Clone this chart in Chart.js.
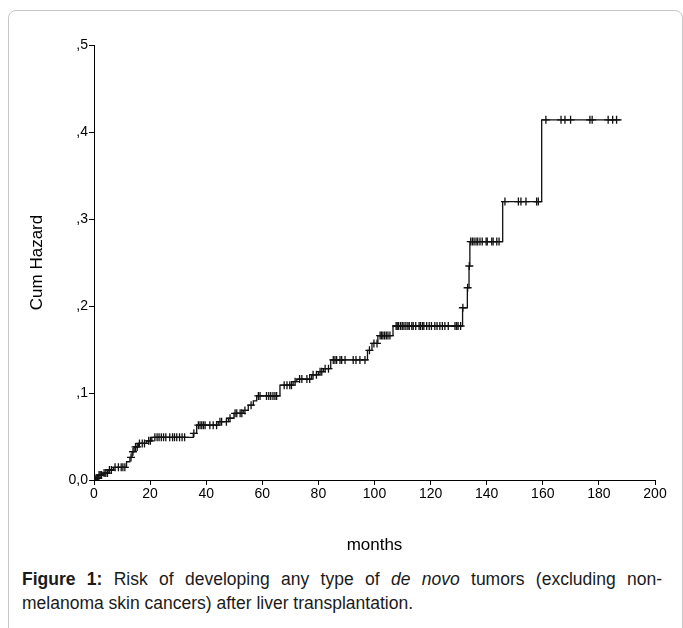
<!DOCTYPE html>
<html lang="en">
<head>
    <meta charset="UTF-8">
    <title>Cum Hazard - de novo tumors</title>
    <script src="https://cdn.jsdelivr.net/npm/chart.js"></script>
    <style>
        html, body { margin: 0; padding: 0; background: #fff; overflow: hidden; }
        body { width: 683px; height: 628px; position: relative; font-family: "Liberation Sans", Arial, sans-serif; }
        .frame {
            position: absolute; left: 8px; top: 10px; width: 675px; height: 660px;
            border: 1px solid #c6c6c6; border-radius: 8px; box-sizing: border-box;
        }
        .plot { position: absolute; left: 0; top: 0; width: 683px; height: 560px; }
        .caption {
            position: absolute; left: 22px; top: 567px; width: 640px;
            font-size: 17.5px; line-height: 24px; color: #1a1a1a;
        }
        .caption .l1 { text-align: justify; text-align-last: justify; white-space: nowrap; }
    </style>
</head>
<body>
    <div class="frame"></div>
    <div class="plot"><canvas id="hazardChart"></canvas></div>
    <div class="caption">
        <div class="l1"><b>Figure 1:</b> Risk of developing any type of <i>de novo</i> tumors (excluding non-</div>
        <div>melanoma skin cancers) after liver transplantation.</div>
    </div>

    <script>
        // Step function: event times (months) and cumulative hazard after each event
        const eventMonths = [0, 0.8, 1.5, 3.3, 5.0, 6.9, 11.6, 12.8, 13.6, 14.3, 15.8, 18.8, 20.6,
            35.4, 36.6, 44.3, 47.9, 49.9, 53.2, 55.0, 56.8, 58.0, 66.3, 71.0, 72.3, 77.6, 80.0,
            81.8, 84.4, 97.5, 99.1, 101.2, 106.6, 131.4, 133.1, 133.7, 134.0, 145.7, 159.6, 188.1];
        const cumHazard = [0, 0.002, 0.0057, 0.008, 0.0115, 0.0146, 0.021, 0.026, 0.0325, 0.038, 0.042, 0.045, 0.049,
            0.0536, 0.063, 0.067, 0.071, 0.0766, 0.080, 0.086, 0.091, 0.0966, 0.109, 0.113, 0.116, 0.121, 0.1245,
            0.128, 0.138, 0.149, 0.157, 0.166, 0.177, 0.198, 0.221, 0.246, 0.274, 0.320, 0.414, 0.414];

        // Censored observations (months)
        const censoredMonths = [0.3, 0.6, 1.0, 1.3, 1.8, 2.2, 2.7, 3.6, 4.2, 4.8, 5.5, 6.2,
            7.5, 8.7, 9.7, 10.3, 11.0, 13.2, 13.9, 14.8, 15.4, 16.2, 17.2, 18.0, 19.5, 20.1,
            21.7, 22.5, 23.2, 24.0, 24.8, 25.6, 27.0, 28.0, 28.7, 29.5, 30.5, 31.4, 32.3, 35.6,
            37.2, 37.8, 38.4, 39.0, 39.6, 41.3, 42.5, 43.7, 44.9, 45.5, 47.2, 48.5,
            50.3, 50.9, 52.1, 52.7, 53.8, 56.0, 58.6, 59.2, 61.5, 62.3, 63.0, 63.8, 64.5, 65.1,
            67.8, 68.8, 69.8, 70.4, 71.7, 73.3, 74.1, 75.9, 76.9, 78.1, 79.3, 80.6, 81.2, 82.4, 83.6,
            85.3, 85.9, 86.5, 87.7, 88.3, 89.5, 92.4, 93.4, 94.8, 96.6, 98.2, 99.8, 100.9,
            102.0, 102.5, 103.0, 103.6, 104.2, 104.8, 105.5,
            107.7, 108.1, 108.6, 109.3, 109.9, 110.5, 111.2, 111.9, 112.4, 113.3, 113.8, 114.7,
            115.9, 116.4, 117.1, 117.6, 118.6, 119.5, 120.3, 121.5, 122.3, 123.3, 124.2, 125.1,
            126.3, 128.7, 129.3, 129.8, 130.7, 131.5, 133.2, 133.8,
            134.3, 134.9, 135.5, 136.2, 136.8, 137.6, 138.4, 139.8, 140.2, 141.8, 142.3, 143.6, 144.4,
            146.5, 151.3, 152.2, 154.0, 157.8, 158.4,
            161.1, 166.5, 167.9, 169.9, 176.8, 177.6, 183.3, 184.9, 186.3];

        const xTicks = [0, 20, 40, 60, 80, 100, 120, 140, 160, 180, 200];
        const yTickLabels = ['0,0', ',1', ',2', ',3', ',4', ',5'];

        // hazard at a censored time = level of the last event at or before it
        function hazardAt(t) {
            let h = 0;
            for (let i = 0; i < eventMonths.length; i++) {
                if (eventMonths[i] <= t) h = cumHazard[i];
            }
            return h;
        }

        const stepPoints = eventMonths.map((m, i) => ({ x: m, y: cumHazard[i] }));
        const censorPoints = censoredMonths.map(m => ({ x: m, y: hazardAt(m) }));

        const axisFont = { family: '"Liberation Sans", Arial, sans-serif', size: 14 };
        const titleFont = { family: '"Liberation Sans", Arial, sans-serif', size: 17 };

        const ctx = document.getElementById('hazardChart').getContext('2d');
        new Chart(ctx, {
            type: 'line',
            data: {
                datasets: [{
                    label: 'Cum Hazard',
                    data: stepPoints,
                    stepped: true,
                    borderColor: '#111',
                    borderWidth: 1.3,
                    pointRadius: 0,
                    fill: false
                }, {
                    label: 'Censored',
                    data: censorPoints,
                    showLine: false,
                    pointStyle: 'cross',
                    pointRadius: 4,
                    pointBorderWidth: 1.3,
                    borderColor: '#111',
                    pointBorderColor: '#111'
                }]
            },
            options: {
                responsive: true,
                maintainAspectRatio: false,
                animation: false,
                layout: { padding: { top: 45, right: 28, left: 0, bottom: 4 } },
                plugins: { legend: { display: false }, tooltip: { enabled: false } },
                scales: {
                    x: {
                        type: 'linear',
                        min: 0,
                        max: 200,
                        afterBuildTicks: scale => { scale.ticks = xTicks.map(v => ({ value: v })); },
                        afterFit: scale => { scale.height = 76; },
                        grid: { drawOnChartArea: false, drawTicks: true, tickLength: 5, color: '#000' },
                        border: { display: true, color: '#000', width: 1 },
                        ticks: { color: '#000', font: axisFont, padding: 1, maxRotation: 0 },
                        title: { display: true, text: 'months', color: '#000', font: titleFont, padding: 0 }
                    },
                    y: {
                        min: 0,
                        max: 0.5,
                        ticks: {
                            stepSize: 0.1,
                            color: '#000',
                            font: axisFont,
                            padding: 1,
                            callback: (v) => yTickLabels[Math.round(v * 10)]
                        },
                        afterFit: scale => { scale.width = 94; },
                        grid: { drawOnChartArea: false, drawTicks: true, tickLength: 5, color: '#000' },
                        border: { display: true, color: '#000', width: 1 },
                        title: { display: true, text: 'Cum Hazard', color: '#000', font: titleFont, padding: { top: 27, bottom: 0 } }
                    }
                }
            }
        });
    </script>
</body>
</html>
